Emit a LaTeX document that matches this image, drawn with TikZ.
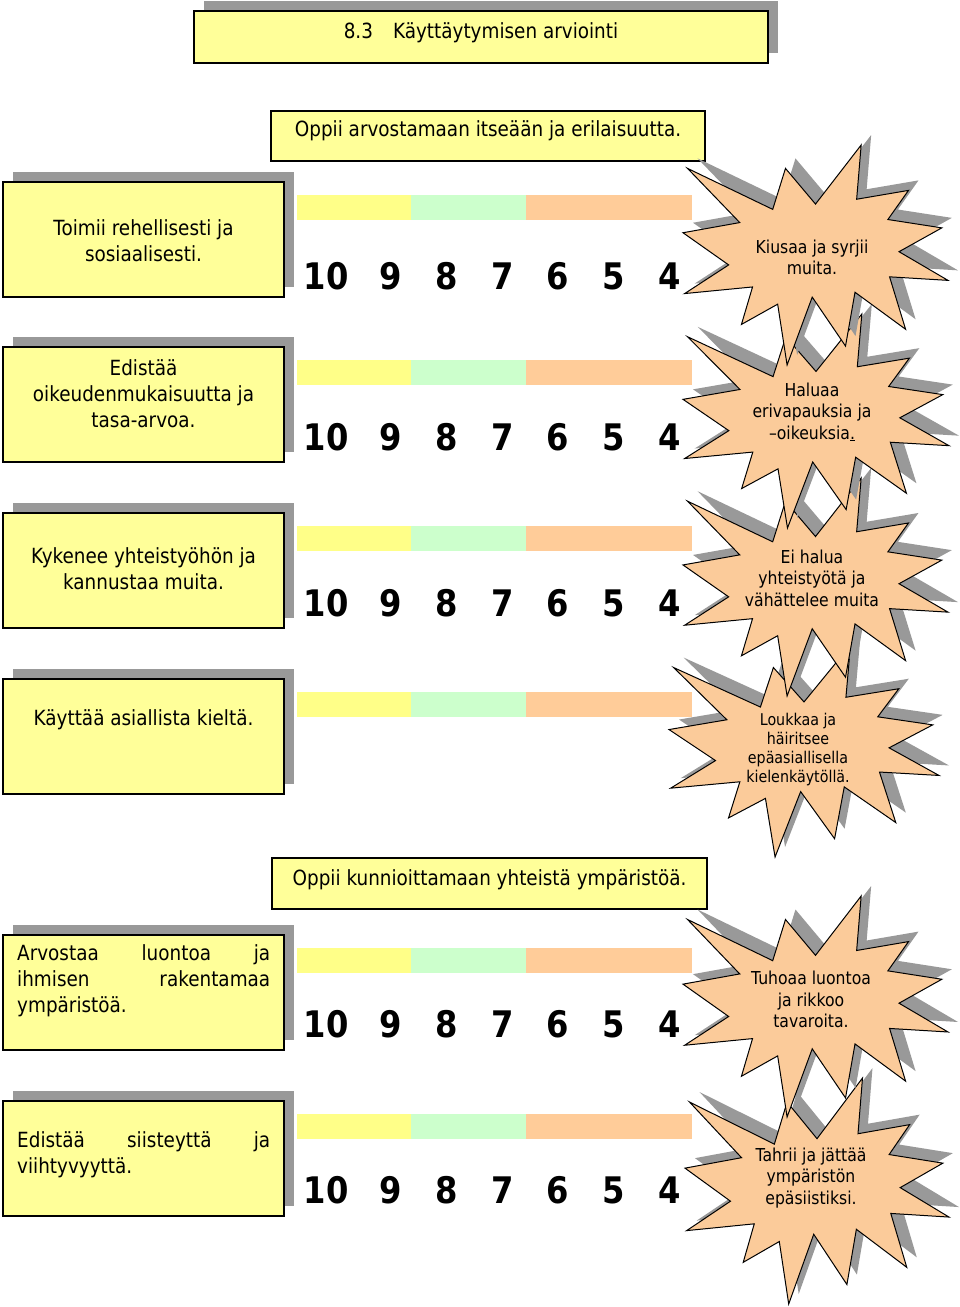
\documentclass[tikz,border=0pt]{standalone}
\usepackage{fontspec}
\setmainfont{DejaVu Sans}[FakeStretch=0.88]
\usetikzlibrary{shadows}
\definecolor{boxyellow}{HTML}{FFFF99}
\definecolor{baryellow}{HTML}{FFFF88}
\definecolor{bargreen}{HTML}{CCFFCC}
\definecolor{barorange}{HTML}{FFCC99}
\definecolor{burstfill}{HTML}{FBCB9A}
\definecolor{shadowgray}{HTML}{999999}
\newcommand\burstpts{(0.5,0.2685) -- (0.6723,0) -- (0.6553,0.2465) -- (0.8509,0.2063) -- (0.7732,0.3387) -- (0.9767,0.3767) -- (0.8151,0.4850) -- (1,0.6153) -- (0.7795,0.5992) -- (0.8400,0.8377) -- (0.6491,0.6693) -- (0.6133,0.9138) -- (0.4876,0.6914) -- (0.3928,1) -- (0.3572,0.7235) -- (0.2205,0.8156) -- (0.2624,0.6452) -- (0.00625,0.6753) -- (0.1723,0.5451) -- (0,0.3988) -- (0.2142,0.3526) -- (0.0171,0.1063) -- (0.3385,0.2926) -- (0.3867,0.1063) -- cycle}
\newcommand\drawburst[4]{%
 \begin{scope}[shift={(#1+10,#2-10)},x=#3pt,y=-#4pt]\fill[burstshadow] \burstpts;\end{scope}
 \begin{scope}[shift={(#1,#2)},x=#3pt,y=-#4pt]\path[burst] \burstpts;\end{scope}}
\tikzset{
 box/.style={draw=black, line width=1.4pt, fill=boxyellow, inner sep=0pt},
 sbox/.style={box, drop shadow={shadow xshift=10pt, shadow yshift=10pt, fill=shadowgray, opacity=1}},
 txt/.style={inner sep=0pt, align=center, font=\fontsize{20.9}{26}\selectfont},
 num/.style={inner sep=0pt, font=\fontsize{36.6}{40}\selectfont\bfseries},
 bursttxt/.style={inner sep=0pt, align=center, font=\fontsize{17.8}{21.5}\selectfont},
 burst/.style={draw=black, line width=1pt, fill=burstfill, line join=miter},
 burstshadow/.style={fill=shadowgray},
}
\begin{document}
\begin{tikzpicture}[x=1pt,y=-1pt]
\useasboundingbox (0,0) rectangle (960,1307);
% title
\node[sbox, minimum width=574pt, minimum height=52pt] (title) at (481,37) {};
\node[txt] (titletxt) at (481,33) {8.3\hspace{20pt}Käyttäytymisen arviointi};
% goal boxes
\node[box, minimum width=434pt, minimum height=50pt] (goal1) at (488,136) {};
\node[txt] (goal1txt) at (488,131) {Oppii arvostamaan itseään ja erilaisuutta.};
\node[box, minimum width=435pt, minimum height=51pt] (goal2) at (489.5,883.5) {};
\node[txt] (goal2txt) at (489.5,880) {Oppii kunnioittamaan yhteistä ympäristöä.};
% left boxes
\foreach \i/\t in {1/182,2/347,3/513,4/679,5/935,6/1101}{
  \node[sbox, minimum width=281pt, minimum height=115pt] (box\i) at (143.5,\t+57.5) {};
  \fill[baryellow] (297,\t+13) rectangle (411,\t+38);
  \fill[bargreen] (411,\t+13) rectangle (526,\t+38);
  \fill[barorange] (526,\t+13) rectangle (692,\t+38);
}
\node[txt] (t1) at (143.5,241) {Toimii rehellisesti ja\\sosiaalisesti.};
\node[txt] (t2) at (143.5,394) {Edistää\\oikeudenmukaisuutta ja\\tasa-arvoa.};
\node[txt] (t3) at (143.5,568.5) {Kykenee yhteistyöhön ja\\kannustaa muita.};
\node[txt] (t4) at (143.5,720) {Käyttää asiallista kieltä.};
\node[txt, anchor=west, align=left] (t5) at (17,981) {\hbox to 253pt{Arvostaa\hfill luontoa\hfill ja}\\\hbox to 253pt{ihmisen\hfill rakentamaa}\\ympäristöä.};
\node[txt, anchor=west, align=left] (t6) at (17,1154.5) {\hbox to 253pt{Edistää\hfill siisteyttä\hfill ja}\\viihtyvyyttä.};
% numbers
\foreach \r/\y in {1/276,2/437,3/603,5/1024,6/1190}{
  \foreach \n/\x in {10/326,9/391,8/447,7/503,6/558,5/614,4/670}{
    \node[num] (n\r-\n) at (\x,\y) {\n};
  }
}
% bursts (bottom first)
\drawburst{685}{1078}{264}{226}
\drawburst{683}{896}{265}{221}
\drawburst{669}{645}{270}{212}
\drawburst{683}{478}{265}{218}
\drawburst{683}{314}{266}{214}
\drawburst{683}{145}{265}{220}
\node[bursttxt] (s1) at (812,257.5) {Kiusaa ja syrjii\\muita.};
\node[bursttxt] (s2) at (812,412) {Haluaa\\erivapauksia ja\\–oikeuksia\underline{.}};
\node[bursttxt] (s3) at (812,578) {Ei halua\\yhteistyötä ja\\vähättelee muita};
\node[bursttxt, font=\fontsize{16.2}{19}\selectfont] (s4) at (798,750) {Loukkaa ja\\häiritsee\\epäasiallisella\\kielenkäytöllä.};
\node[bursttxt] (s5) at (811,999.5) {Tuhoaa luontoa\\ja rikkoo\\tavaroita.};
\node[bursttxt] (s6) at (811,1178) {Tahrii ja jättää\\ympäristön\\epäsiistiksi.};
\end{tikzpicture}
\end{document}
